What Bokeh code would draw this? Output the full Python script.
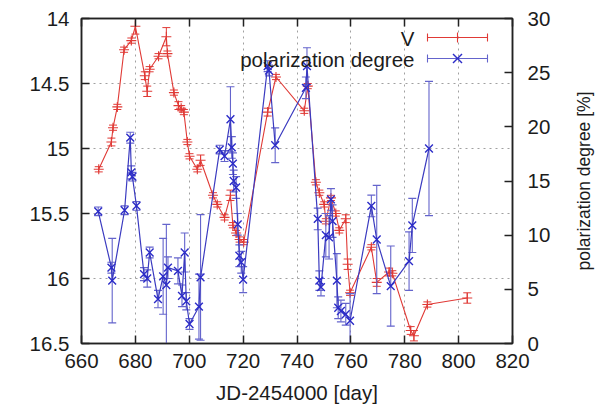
from bokeh.plotting import figure
from bokeh.layouts import row
from bokeh.models import (Range1d, LinearAxis, FixedTicker, Label, Arrow, TeeHead,
                          ColumnDataSource, CustomJSTickFormatter)
from bokeh.embed import file_html
from bokeh.resources import INLINE

# ---------------- data ----------------
v_day = [666.4, 671.1, 671.7, 673.3, 675.8, 678.5, 680.0, 683.5, 684.4, 685.3,
         688.6, 691.5, 691.9, 694.3, 696.0, 697.0, 698.0, 699.3, 700.1, 703.0,
         704.2, 708.8, 710.4, 713.1, 715.3, 716.2, 717.4, 718.7, 720.2, 729.1,
         732.2, 742.7, 744.0, 747.0, 748.3, 750.1, 750.7, 752.6, 754.4, 755.7,
         758.1, 758.8, 759.7, 767.6, 769.6, 774.2, 775.4, 782.2, 783.4, 788.4,
         803.2]
v_mag = [15.16, 14.95, 14.84, 14.68, 14.24, 14.17, 14.06, 14.44, 14.56, 14.39,
         14.29, 14.14, 14.27, 14.57, 14.67, 14.69, 14.72, 14.95, 15.06, 15.16,
         15.09, 15.36, 15.43, 15.53, 15.36, 15.59, 15.65, 15.70, 15.72, 14.72,
         14.45, 14.71, 14.52, 15.26, 15.34, 15.43, 15.56, 15.38, 15.50, 15.63,
         15.54, 15.89, 16.11, 15.76, 16.03, 15.95, 15.96, 16.40, 16.44, 16.20,
         16.15]
v_err = [0.02, 0.03, 0.02, 0.02, 0.02, 0.02, 0.06, 0.03, 0.04, 0.02,
         0.02, 0.07, 0.02, 0.02, 0.03, 0.02, 0.02, 0.02, 0.02, 0.02,
         0.04, 0.02, 0.02, 0.02, 0.04, 0.02, 0.02, 0.02, 0.02, 0.03,
         0.02, 0.02, 0.02, 0.02, 0.02, 0.02, 0.02, 0.02, 0.02, 0.02,
         0.03, 0.04, 0.02, 0.02, 0.03, 0.03, 0.02, 0.03, 0.04, 0.02,
         0.04]

pol_day = [666.2, 671.1, 671.4, 676.0, 678.1, 678.5, 678.9, 680.4, 683.2, 684.4,
           685.3, 688.4, 690.3, 691.5, 692.1, 695.8, 697.3, 698.3, 698.9, 700.1,
           703.6, 704.2, 711.3, 713.1, 715.3, 715.8, 716.2, 716.5, 717.4, 718.0,
           718.6, 719.3, 720.0, 729.1, 729.6, 731.9, 743.3, 743.7, 747.7, 748.3,
           748.9, 750.7, 751.9, 752.6, 753.2, 754.8, 755.3, 756.3, 758.1, 759.7,
           767.6, 769.6, 774.8, 781.6, 782.8, 789.0]
pol_deg = [12.2, 7.0, 5.8, 12.3, 19.0, 15.8, 15.4, 12.7, 6.4, 6.0,
           8.4, 4.1, 6.2, 5.4, 7.0, 6.7, 4.4, 8.4, 3.9, 1.8,
           3.4, 6.1, 17.9, 17.3, 20.7, 18.1, 16.6, 15.0, 14.4, 11.0,
           8.1, 7.5, 5.9, 25.6, 25.2, 18.3, 23.6, 25.6, 11.5, 5.8,
           5.2, 10.0, 9.8, 13.3, 11.3, 5.8, 3.3, 3.0, 2.7, 2.1,
           12.7, 9.6, 5.3, 7.6, 10.9, 18.0]
pol_err = [0.4, 0.5, 3.9, 0.4, 0.5, 0.6, 0.4, 0.4, 0.6, 0.8,
           0.5, 0.8, 3.5, 5.6, 1.0, 1.2, 1.0, 1.8, 0.8, 0.5,
           3.0, 5.8, 0.4, 0.5, 3.0, 1.0, 1.0, 1.0, 1.0, 1.0,
           1.0, 1.0, 1.2, 0.5, 0.5, 1.6, 1.0, 1.7, 1.0, 0.9,
           0.8, 2.0, 2.0, 1.0, 1.5, 2.5, 1.0, 1.0, 1.0, 2.5,
           1.0, 5.0, 3.7, 2.7, 2.5, 6.2]

x_ticks = [660, 680, 700, 720, 740, 760, 780, 800, 820]
v_ticks = [14, 14.5, 15, 15.5, 16, 16.5]
v_tick_labels = ["14", "14.5", "15", "15.5", "16", "16.5"]
pol_ticks = [0, 5, 10, 15, 20, 25, 30]

series_names = ["V", "polarization degree"]
x_title = "JD-2454000 [day]"
pol_title = "polarization degree [%]"

# ---------------- style ----------------
FONT = "Liberation Sans"
FS = "20.5px"
TXT = "#1c1c1c"
RED = "#e03a36"
BLUE = "#2c2cc8"
BLUE_ERR = "#6464cc"

# frame geometry (pixels)
W_MAIN, W_SIDE, H = 553, 44, 410
F_L, F_R, F_T, F_B = 81, 512, 18, 343
X0, X1 = 660, 820
Y0, Y1 = 14.0, 16.5

p = figure(width=W_MAIN, height=H, output_backend="svg", toolbar_location=None,
           x_range=Range1d(X0, X1), y_range=Range1d(Y1, Y0),
           min_border_left=F_L, min_border_right=W_MAIN - F_R,
           min_border_top=F_T, min_border_bottom=H - F_B,
           x_axis_label=x_title)
p.extra_y_ranges = {"pol": Range1d(0, 30)}
p.background_fill_color = "white"
p.border_fill_color = "white"
p.outline_line_color = "#222222"
p.outline_line_width = 1.5


def style_axis(ax):
    ax.major_label_text_font = FONT
    ax.major_label_text_font_size = FS
    ax.major_label_text_color = TXT
    ax.axis_label_text_font = FONT
    ax.axis_label_text_font_size = FS
    ax.axis_label_text_font_style = "normal"
    ax.axis_label_text_color = TXT
    ax.major_tick_in = 8
    ax.major_tick_out = 0
    ax.minor_tick_in = 0
    ax.minor_tick_out = 0
    ax.major_tick_line_color = "#222222"
    ax.major_tick_line_width = 1.5
    ax.axis_line_color = "#222222"
    ax.axis_line_width = 1.5


xa = p.xaxis[0]
style_axis(xa)
xa.ticker = FixedTicker(ticks=x_ticks)
xa.major_label_standoff = 10
xa.axis_label_standoff = 10

ya = p.yaxis[0]
style_axis(ya)
ya.ticker = FixedTicker(ticks=v_ticks)
ya.major_label_overrides = {t: s for t, s in zip(v_ticks, v_tick_labels)}
ya.major_label_standoff = 12

ra = LinearAxis(y_range_name="pol", ticker=FixedTicker(ticks=pol_ticks))
style_axis(ra)
ra.major_label_standoff = 15
p.add_layout(ra, "right")

ta = LinearAxis(ticker=FixedTicker(ticks=x_ticks),
                formatter=CustomJSTickFormatter(code="return ''"))
style_axis(ta)
ta.major_label_text_font_size = "0px"
ta.major_label_standoff = 0
p.add_layout(ta, "above")

p.xgrid.ticker = FixedTicker(ticks=x_ticks)
p.ygrid.ticker = FixedTicker(ticks=v_ticks)
for g in (p.xgrid[0], p.ygrid[0]):
    g.grid_line_color = "#a0a0a0"
    g.grid_line_dash = "2 4"
    g.grid_line_width = 1

# ---------------- V series ----------------
vsrc = ColumnDataSource(dict(x=v_day, y=v_mag,
                             lo=[m - e for m, e in zip(v_mag, v_err)],
                             hi=[m + e for m, e in zip(v_mag, v_err)]))
p.segment(x0="x", y0="lo", x1="x", y1="hi", source=vsrc, line_color=RED, line_width=1)
p.scatter("x", "lo", marker="dash", size=8, source=vsrc, line_color=RED, line_width=1)
p.scatter("x", "hi", marker="dash", size=8, source=vsrc, line_color=RED, line_width=1)
p.line("x", "y", source=vsrc, line_color=RED, line_width=1.1)
p.scatter("x", "y", marker="cross", size=10, source=vsrc, line_color=RED, line_width=1.1)

# ---------------- polarization series ----------------
psrc = ColumnDataSource(dict(x=pol_day, y=pol_deg,
                             lo=[d - e for d, e in zip(pol_deg, pol_err)],
                             hi=[d + e for d, e in zip(pol_deg, pol_err)]))
p.segment(x0="x", y0="lo", x1="x", y1="hi", source=psrc, line_color=BLUE_ERR,
          line_width=1.1, y_range_name="pol")
p.scatter("x", "lo", marker="dash", size=8, source=psrc, line_color=BLUE_ERR,
          line_width=1.1, y_range_name="pol")
p.scatter("x", "hi", marker="dash", size=8, source=psrc, line_color=BLUE_ERR,
          line_width=1.1, y_range_name="pol")
p.line("x", "y", source=psrc, line_color="#3b3bc0", line_width=1.2, y_range_name="pol")
p.scatter("x", "y", marker="x", size=11, source=psrc, line_color=BLUE,
          line_width=1.4, y_range_name="pol")


# ---------------- legend (gnuplot style: text left, sample right) ----------------
def px_x(px):
    return X0 + (px - F_L) * (X1 - X0) / (F_R - F_L)


def px_y(py):
    return Y0 + (py - F_T) * (Y1 - Y0) / (F_B - F_T)


def legend_row(name, py, color, err_color, kind):
    p.add_layout(Label(x=px_x(414), y=px_y(py + 1), text=name, text_align="right",
                       text_baseline="middle", text_font=FONT, text_font_size=FS,
                       text_color=TXT))
    p.add_layout(Arrow(x_start=px_x(427), y_start=px_y(py), x_end=px_x(487), y_end=px_y(py),
                       start=TeeHead(size=8, line_color=err_color, line_width=1.1),
                       end=TeeHead(size=8, line_color=err_color, line_width=1.1),
                       line_color=err_color, line_width=1.1))
    cx = px_x(457)
    if kind == "cross":
        p.add_layout(Arrow(x_start=cx, y_start=px_y(py - 5), x_end=cx, y_end=px_y(py + 5),
                           start=None, end=None, line_color=color, line_width=1.1))
    else:
        d = 4.5
        p.add_layout(Arrow(x_start=px_x(457 - d), y_start=px_y(py - d),
                           x_end=px_x(457 + d), y_end=px_y(py + d),
                           start=None, end=None, line_color=color, line_width=1.4))
        p.add_layout(Arrow(x_start=px_x(457 - d), y_start=px_y(py + d),
                           x_end=px_x(457 + d), y_end=px_y(py - d),
                           start=None, end=None, line_color=color, line_width=1.4))


legend_row(series_names[0], 37, RED, RED, "cross")
legend_row(series_names[1], 58, BLUE, BLUE_ERR, "x")

# ---------------- right-hand title strip (reads bottom-to-top) ----------------
# borders match the main plot so that the row keeps both frames aligned
side = figure(width=W_SIDE, height=H, output_backend="svg", toolbar_location=None,
              x_axis_location=None, y_axis_location=None,
              title=pol_title, title_location="left",
              min_border_left=40, min_border_right=0,
              min_border_top=F_T, min_border_bottom=H - F_B)
side.title.text_font = FONT
side.title.text_font_size = "17.5px"
side.title.text_font_style = "normal"
side.title.text_color = TXT
side.title.align = "center"
side.title.standoff = 0
side.title.offset = -15
side.outline_line_color = None
side.background_fill_color = "white"
side.border_fill_color = "white"
side.grid.visible = False

layout = row(p, side, spacing=0)
open("out.html", "w").write(file_html(layout, INLINE))
